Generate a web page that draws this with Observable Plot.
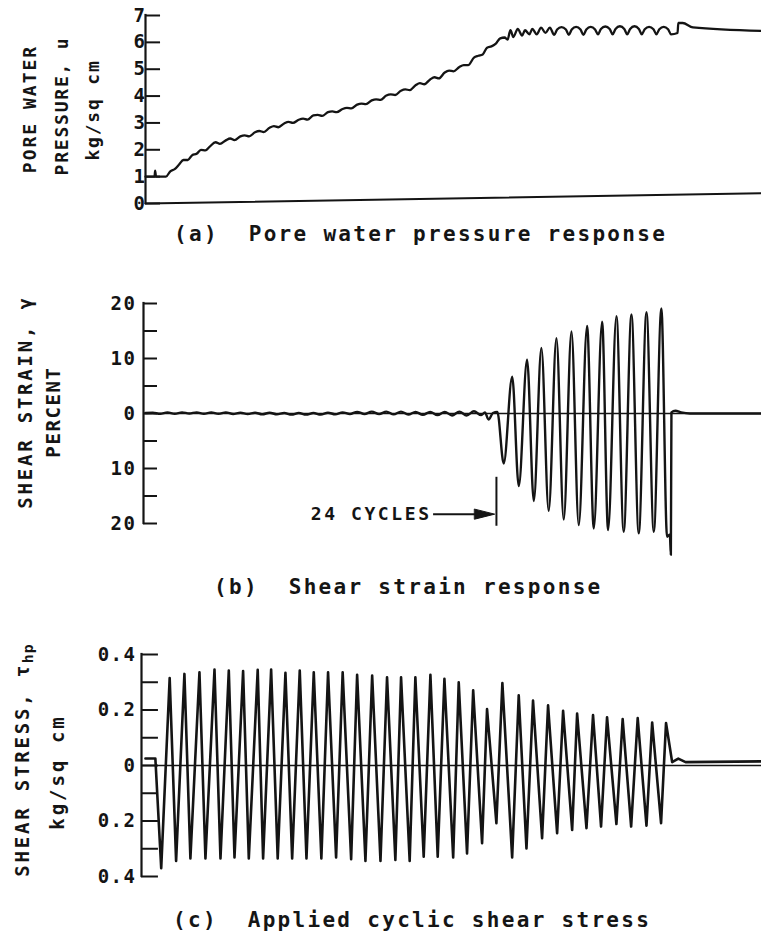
<!DOCTYPE html>
<html><head><meta charset="utf-8">
<script src="https://cdn.jsdelivr.net/npm/d3@7"></script>
<script src="https://cdn.jsdelivr.net/npm/@observablehq/plot@0.6"></script>
<style>
body{margin:0;background:#fff;}
#root{position:relative;width:761px;height:945px;background:#fff;overflow:hidden;font-family:"DejaVu Sans Mono",monospace;color:#151515;font-weight:bold;}
.cap{position:absolute;font-size:21px;line-height:21px;letter-spacing:2.3px;white-space:pre;}
.yt{position:absolute;font-size:18px;line-height:18px;white-space:pre;transform:translate(-50%,-50%) rotate(-90deg);}
.yt sub{font-size:0.78em;vertical-align:-0.25em;letter-spacing:1px;}
</style></head><body><div id="root"></div>
<script>
// ---------------- DATA (time in loading cycles) ----------------
// (a) pore water pressure, u (kg/sq cm): [time, u]
const porePressure = [
[0,1.0],[0.62,1.0],[0.66,1.22],[0.72,1.0],[1.4,1.0],[1.7,1.2],[2.0,1.28],[2.3,1.45],[2.6,1.62],[2.9,1.62],
[3.2,1.8],[3.5,1.85],[3.8,2.0],[4.1,1.98],[4.4,2.12],[4.8,2.28],[5.1,2.22],[5.5,2.35],[5.8,2.42],[6.1,2.36],
[6.5,2.5],[6.8,2.54],[7.1,2.5],[7.5,2.65],[7.8,2.7],[8.1,2.66],[8.5,2.82],[8.8,2.88],[9.1,2.84],[9.5,2.98],
[9.8,3.04],[10.1,3.0],[10.5,3.12],[10.8,3.16],[11.1,3.12],[11.5,3.28],[11.8,3.3],[12.1,3.26],[12.5,3.4],[12.8,3.43],
[13.1,3.4],[13.5,3.52],[13.8,3.56],[14.1,3.54],[14.5,3.68],[14.8,3.72],[15.1,3.7],[15.5,3.84],[15.8,3.88],[16.1,3.86],
[16.5,4.02],[16.8,4.06],[17.1,4.04],[17.5,4.2],[17.8,4.25],[18.1,4.22],[18.5,4.4],[18.8,4.48],[19.1,4.44],[19.5,4.62],
[19.8,4.7],[20.1,4.66],[20.5,4.88],[20.8,4.95],[21.1,4.92],[21.5,5.08],[21.8,5.15],[22.1,5.15],[22.5,5.43],[22.8,5.5],
[23.1,5.55],[23.4,5.8],[23.7,5.85],[24.0,5.95],[24.3,6.15],[24.6,6.18],[24.8,6.1],
[25.0,6.45],[25.2,6.2],[25.5,6.5],[25.8,6.25],[26.0,6.45],[26.3,6.3],[26.5,6.5],[26.8,6.3],[27.1,6.55],[27.4,6.35],[27.7,6.55],
[28.0,6.28],[28.2,6.48],[28.5,6.57],[28.8,6.48],[29.0,6.28],[29.2,6.48],[29.5,6.58],[29.8,6.48],[30.0,6.28],[30.2,6.48],
[30.5,6.58],[30.8,6.48],[31.0,6.3],[31.2,6.5],[31.5,6.59],[31.8,6.5],[32.0,6.3],[32.2,6.5],[32.5,6.6],[32.8,6.5],
[33.0,6.3],[33.2,6.5],[33.5,6.6],[33.8,6.5],[34.0,6.3],[34.2,6.49],[34.5,6.58],[34.8,6.49],[35.0,6.3],[35.2,6.49],
[35.5,6.58],[35.8,6.49],[36.0,6.3],[36.45,6.35],[36.5,6.72],[36.8,6.72],[37.5,6.56],[42.2,6.43]
];
const poreBaseline = [[0,0],[42.2,0.38]];
const poreTicks = [0,1,2,3,4,5,6,7];
const poreTickLabels = ["0","1","2","3","4","5","6","7"];

// (b) shear strain, gamma (percent)
const strainPre = [[0,0.1],[0.5,0.15],[1.0,-0.05],[1.5,0.2],[2.0,-0.05],[2.5,0.2],[3.0,0.0],[3.5,0.2],[4.0,-0.05],[4.5,0.2],
[5.0,-0.05],[5.5,0.2],[6.0,-0.1],[6.5,0.15],[7.0,-0.1],[7.5,0.15],[8.0,-0.15],[8.5,0.15],[9.0,-0.15],[9.5,0.1],
[10.0,-0.2],[10.5,0.1],[11.0,-0.2],[11.5,0.1],[12.0,-0.2],[12.5,0.15],[13.0,-0.15],[13.5,0.2],[14.0,-0.1],[14.5,0.3],
[15.0,-0.1],[15.5,0.35],[16.0,-0.1],[16.5,0.35],[17.0,-0.15],[17.5,0.35],[18.0,-0.2],[18.5,0.3],[19.0,-0.25],[19.5,0.3],
[20.0,-0.3],[20.5,0.3],[21.0,-0.35],[21.5,0.35],[22.0,-0.35],[22.5,0.4],[23.0,-0.3],[23.25,0.2],[23.5,-1.1],[23.8,0.1],[24.1,0.3]];
const strainTroughTime = [24.54,25.57,26.60,27.62,28.65,29.68,30.71,31.69,32.76,33.79,34.82,35.73];
const strainTrough     = [-9.1,-13.2,-15.9,-17.7,-19.3,-20.3,-20.9,-21.2,-21.5,-21.8,-21.5,-22.4];
const strainPeakTime   = [25.12,26.14,27.12,28.15,29.18,30.25,31.28,32.26,33.29,34.32,35.34];
const strainPeak       = [6.7,9.8,11.9,13.7,14.9,15.9,16.7,17.7,18.0,18.4,19.1];
const strainEnd = [[35.92,-22.0],[35.99,-25.7],[36.03,0.2],[36.3,0.5],[36.7,0.2],[37.3,0],[42.2,0]];
const strainTicks = [-20,-15,-10,-5,0,5,10,15,20];
const strainLabelTicks = [-20,-10,0,10,20];
const strainTickLabels = ["20","10","0","10","20"];
const cycleMarker = 24.04;
const cycleLabel = "24 CYCLES";

// (c) applied cyclic shear stress, tau_hp (kg/sq cm)
const stressStart = [[0,0.025],[0.68,0.025]];
const stressTroughTime = [1.08,2.10,3.08,4.11,5.14,6.10,7.08,8.06,9.06,10.05,11.03,12.05,13.06,14.09,15.07,16.10,17.12,18.10,
  19.06,20.02,21.08,22.03,23.06,24.04,25.12,26.10,27.17,28.20,29.23,30.21,31.21,32.26,33.27,34.32,35.32];
const stressTrough = [-0.370,-0.344,-0.335,-0.335,-0.335,-0.331,-0.335,-0.335,-0.335,-0.335,-0.335,-0.335,-0.331,-0.338,-0.344,-0.344,-0.340,-0.344,
  -0.329,-0.329,-0.331,-0.317,-0.280,-0.208,-0.331,-0.299,-0.262,-0.244,-0.232,-0.226,-0.220,-0.211,-0.220,-0.217,-0.208];
const stressPeakTime = [1.66,2.67,3.70,4.73,5.71,6.69,7.69,8.61,9.59,10.57,11.53,12.51,13.51,14.50,15.53,16.55,17.51,18.49,
  19.52,20.48,21.46,22.45,23.40,24.45,25.57,26.55,27.58,28.61,29.57,30.66,31.62,32.69,33.72,34.71,35.66];
const stressPeak = [0.315,0.330,0.336,0.346,0.342,0.340,0.345,0.346,0.334,0.342,0.336,0.336,0.336,0.327,0.324,0.318,0.318,0.318,
  0.327,0.312,0.300,0.271,0.203,0.297,0.253,0.234,0.217,0.197,0.187,0.182,0.174,0.167,0.171,0.155,0.153];
const stressEnd = [[36.08,0.012],[36.5,0.025],[37.0,0.012],[42.2,0.015]];
const stressTicks = [-0.4,-0.3,-0.2,-0.1,0,0.1,0.2,0.3,0.4];
const stressLabelTicks = [-0.4,-0.2,0,0.2,0.4];
const stressTickLabels = ["0.4","0.2","0","0.2","0.4"];

// ---------------- DRAWING ----------------
const ink = "#141414";
const FONT = '"DejaVu Sans Mono", monospace';
const X_END = 42.2;
const root = document.getElementById("root");

const pts = (pairs) => pairs.map(([t, v]) => ({t, v}));
function cyclic(start, troughT, trough, peakT, peak, end) {
  const a = pts(start);
  troughT.forEach((t, i) => a.push({t, v: trough[i]}));
  peakT.forEach((t, i) => a.push({t, v: peak[i]}));
  pts(end).forEach(d => a.push(d));
  return a.sort((p, q) => p.t - q.t);
}

function panel({top, height, marginTop, marginBottom, marginLeft, xMin, yDomain, tickEnd, ticks, labelTicks, labels, labelDx, marks}) {
  const svg = Plot.plot({
    width: 761, height, marginTop, marginBottom, marginLeft, marginRight: 0,
    x: {domain: [xMin, X_END], axis: null},
    y: {domain: yDomain, axis: null},
    style: {background: "transparent", overflow: "visible", fontFamily: FONT, color: ink, letterSpacing: "1.5px", fontWeight: "bold"},
    marks: [
      Plot.ruleY(ticks, {y: d => d, x1: xMin, x2: tickEnd, stroke: ink, strokeWidth: 2}),
      Plot.ruleX([xMin], {stroke: ink, strokeWidth: 2.2, strokeLinecap: "square"}),
      Plot.text(labelTicks, {y: d => d, frameAnchor: "left", text: (d, i) => labels[i], textAnchor: "end",
        dx: labelDx, fontSize: 19, fontFamily: FONT, fontWeight: "bold", fill: ink}),
      ...marks
    ]
  });
  svg.style.position = "absolute";
  svg.style.left = "0px";
  svg.style.top = top + "px";
  root.appendChild(svg);
  return svg;
}

// (a)
panel({
  top: 0, height: 215, marginTop: 15, marginBottom: 12, marginLeft: 145, xMin: 0, yDomain: [0, 7],
  tickEnd: 1.03, ticks: poreTicks, labelTicks: poreTicks, labels: poreTickLabels, labelDx: 1,
  marks: [
    Plot.line(pts(poreBaseline), {x: "t", y: "v", stroke: ink, strokeWidth: 2}),
    Plot.line(pts(porePressure), {x: "t", y: "v", curve: "monotone-x", stroke: ink, strokeWidth: 2.3, strokeLinejoin: "round"})
  ]
});

// (b)
const strainSeries = cyclic(strainPre, strainTroughTime, strainTrough, strainPeakTime, strainPeak, strainEnd);
const arrowHead = {draw(ctx, l) { ctx.moveTo(-5, 0); ctx.lineTo(0, -l); ctx.lineTo(5, 0); ctx.closePath(); }};
const svgB = panel({
  top: 280, height: 290, marginTop: 23, marginBottom: 47, marginLeft: 143, xMin: -0.14, yDomain: [-20, 20],
  tickEnd: 0.82, ticks: strainTicks, labelTicks: strainLabelTicks, labels: strainTickLabels, labelDx: -7,
  marks: [
    Plot.ruleY([0], {stroke: ink, strokeWidth: 1.6}),
    Plot.line(strainSeries, {x: "t", y: "v", curve: "monotone-x", stroke: ink, strokeWidth: 2.4, strokeLinejoin: "round"}),
    Plot.ruleX([cycleMarker], {x: d => d, y1: -11.6, y2: -20.5, stroke: ink, strokeWidth: 2}),
    Plot.link([cycleMarker], {x1: 19.7, x2: d => d - 1.2, y1: -18.3, y2: -18.3, stroke: ink, strokeWidth: 2}),
    Plot.vector([cycleMarker], {x: d => d - 0.12, y: -18.3, rotate: 90, length: 20, anchor: "end", shape: arrowHead, fill: ink, stroke: ink, strokeWidth: 1}),
    Plot.text([cycleLabel], {x: 19.6, y: -18.3, text: d => d, textAnchor: "end", fontSize: 18, fontFamily: FONT, fontWeight: "bold", fill: ink})
  ]
});
d3.select(svgB).selectAll("text").filter(function () { return this.textContent === cycleLabel; })
  .style("letter-spacing", "2.6px");

// (c)
const stressSeries = cyclic(stressStart, stressTroughTime, stressTrough, stressPeakTime, stressPeak, stressEnd);
panel({
  top: 630, height: 260, marginTop: 24, marginBottom: 14, marginLeft: 141, xMin: -0.27, yDomain: [-0.4, 0.4],
  tickEnd: 0.89, ticks: stressTicks, labelTicks: stressLabelTicks, labels: stressTickLabels, labelDx: -5,
  marks: [
    Plot.ruleY([0], {stroke: ink, strokeWidth: 1.6}),
    Plot.line(stressSeries, {x: "t", y: "v", curve: "linear", stroke: ink, strokeWidth: 2.6, strokeLinejoin: "round"})
  ]
});

// captions and axis titles (HTML text)
function addText(cls, html, css) {
  const d = document.createElement("div");
  d.className = cls; d.innerHTML = html;
  Object.assign(d.style, css);
  root.appendChild(d);
}
addText("cap", "(a)  Pore water pressure response", {left: "174px", top: "224px"});
addText("cap", "(b)  Shear strain response", {left: "214px", top: "577px"});
addText("cap", "(c)  Applied cyclic shear stress", {left: "173px", top: "910px"});

addText("yt", "PORE WATER", {left: "30px", top: "109px", letterSpacing: "2px"});
addText("yt", "PRESSURE, u", {left: "62px", top: "106px", letterSpacing: "1.8px"});
addText("yt", "kg/sq cm", {left: "93px", top: "110px", letterSpacing: "1.8px"});

addText("yt", "SHEAR STRAIN, γ", {left: "25px", top: "402px", letterSpacing: "2.8px", fontSize: "19px"});
addText("yt", "PERCENT", {left: "53px", top: "412px", letterSpacing: "1.6px", fontSize: "19px"});

addText("yt", "SHEAR STRESS, τ<sub>hp</sub>", {left: "25px", top: "760px", letterSpacing: "2.8px", fontSize: "19px"});
addText("yt", "kg/sq cm", {left: "57px", top: "772px", letterSpacing: "3px", fontSize: "19px"});
</script></body></html>
